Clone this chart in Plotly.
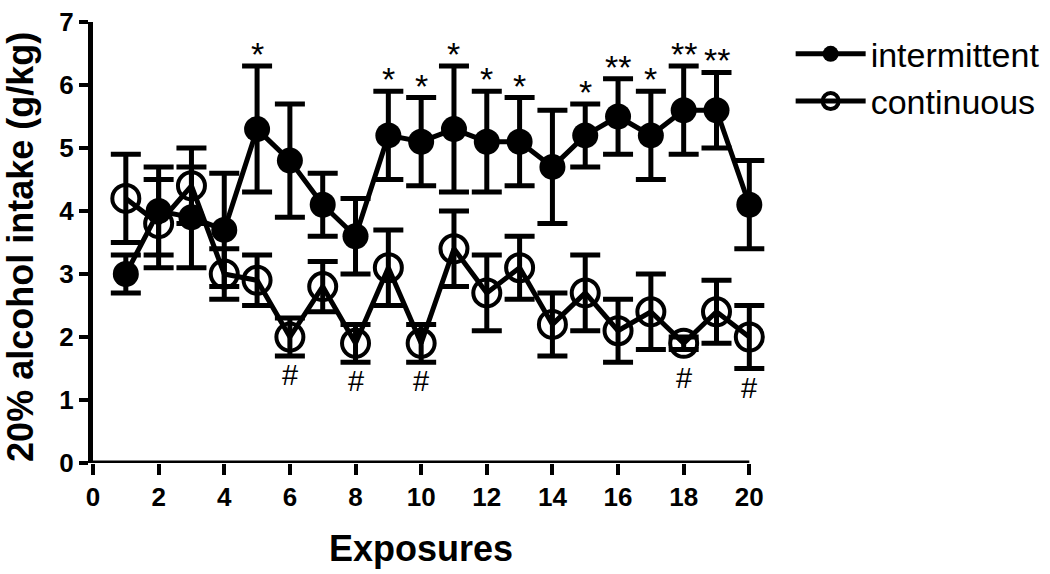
import plotly.graph_objects as go

exposures = list(range(1, 21))
intermittent = [3.0, 4.0, 3.9, 3.7, 5.3, 4.8, 4.1, 3.6, 5.2, 5.1, 5.3, 5.1, 5.1, 4.7, 5.2, 5.5, 5.2, 5.6, 5.6, 4.1]
intermittent_err = [0.3, 0.7, 0.8, 0.9, 1.0, 0.9, 0.5, 0.6, 0.7, 0.7, 1.0, 0.8, 0.7, 0.9, 0.5, 0.6, 0.7, 0.7, 0.6, 0.7]
continuous = [4.2, 3.8, 4.4, 3.0, 2.9, 2.0, 2.8, 1.9, 3.1, 1.9, 3.4, 2.7, 3.1, 2.2, 2.7, 2.1, 2.4, 1.9, 2.4, 2.0]
continuous_err = [0.7, 0.7, 0.6, 0.4, 0.4, 0.3, 0.4, 0.3, 0.6, 0.3, 0.6, 0.6, 0.5, 0.5, 0.6, 0.5, 0.6, 0.1, 0.5, 0.5]
stars = ["", "", "", "", "*", "", "", "", "*", "*", "*", "*", "*", "", "*", "**", "*", "**", "**", ""]
hashes = ["", "", "", "", "", "#", "", "#", "", "#", "", "", "", "", "", "", "", "#", "", "#"]
x_ticks = [0, 2, 4, 6, 8, 10, 12, 14, 16, 18, 20]
y_ticks = [0, 1, 2, 3, 4, 5, 6, 7]

FONT = "Liberation Sans, Arial, sans-serif"

fig = go.Figure()
fig.add_trace(go.Scatter(
    x=exposures, y=continuous, name="continuous", mode="lines+markers",
    line=dict(color="black", width=5),
    marker=dict(symbol="circle-open", size=27, color="black", line=dict(width=4, color="black")),
    error_y=dict(type="data", array=continuous_err, color="black", thickness=5, width=15),
    cliponaxis=False,
))
fig.add_trace(go.Scatter(
    x=exposures, y=intermittent, name="intermittent", mode="lines+markers",
    line=dict(color="black", width=5),
    marker=dict(symbol="circle", size=26, color="black"),
    error_y=dict(type="data", array=intermittent_err, color="black", thickness=5, width=15),
    cliponaxis=False,
))

for x, y, e, s in zip(exposures, intermittent, intermittent_err, stars):
    if s:
        fig.add_annotation(x=x, y=y + e, text=s, showarrow=False, yanchor="bottom", yshift=-9,
                           font=dict(family=FONT, size=34, color="black"))
for x, y, e, s in zip(exposures, continuous, continuous_err, hashes):
    if s:
        fig.add_annotation(x=x, y=y - max(e, 0.25), text=s, showarrow=False, yanchor="top", yshift=-1,
                           font=dict(family=FONT, size=29, color="black"))

# x axis baseline from first to last tick
fig.add_shape(type="line", xref="x", yref="y", x0=x_ticks[0], x1=x_ticks[-1], y0=0, y1=0,
              line=dict(color="black", width=5), layer="above")

# axis titles
fig.add_annotation(x=(x_ticks[0] + x_ticks[-1]) / 2, y=0, xref="x", yref="paper",
                   text="<b>Exposures</b>", showarrow=False, yanchor="middle", yshift=-85,
                   font=dict(family=FONT, size=36, color="black"))
fig.add_annotation(x=0, y=0.49, xref="paper", yref="paper", textangle=-90,
                   text="<b>20% alcohol intake (g/kg)</b>", showarrow=False,
                   xanchor="center", yanchor="middle", xshift=-72,
                   font=dict(family=FONT, size=36, color="black"))

fig.update_layout(
    width=1050, height=574,
    margin=dict(l=93, r=281, t=22, b=111),
    plot_bgcolor="white", paper_bgcolor="white",
    showlegend=True,
    legend=dict(x=0.753, y=0.956, xanchor="left", yanchor="top", xref="container", yref="container",
                font=dict(family=FONT, size=34, color="black"),
                traceorder="reversed", itemwidth=70, bgcolor="rgba(0,0,0,0)",
                tracegroupgap=0),
    xaxis=dict(range=[0, 20.6], tickvals=x_ticks, automargin=False,
               showgrid=False, zeroline=False, showline=False,
               ticks="outside", ticklen=11, tickwidth=4, tickcolor="black",
               tickfont=dict(family=FONT, size=26, color="black", weight="bold")),
    yaxis=dict(range=[0, 7], tickvals=y_ticks, automargin=False,
               showgrid=False, zeroline=False, showline=True, linewidth=5, linecolor="black",
               ticks="outside", ticklen=9, tickwidth=4, tickcolor="black",
               tickfont=dict(family=FONT, size=26, color="black", weight="bold")),
)

fig.write_html("out.html", config={"displayModeBar": False},
               post_script="document.body.style.margin='0';")
